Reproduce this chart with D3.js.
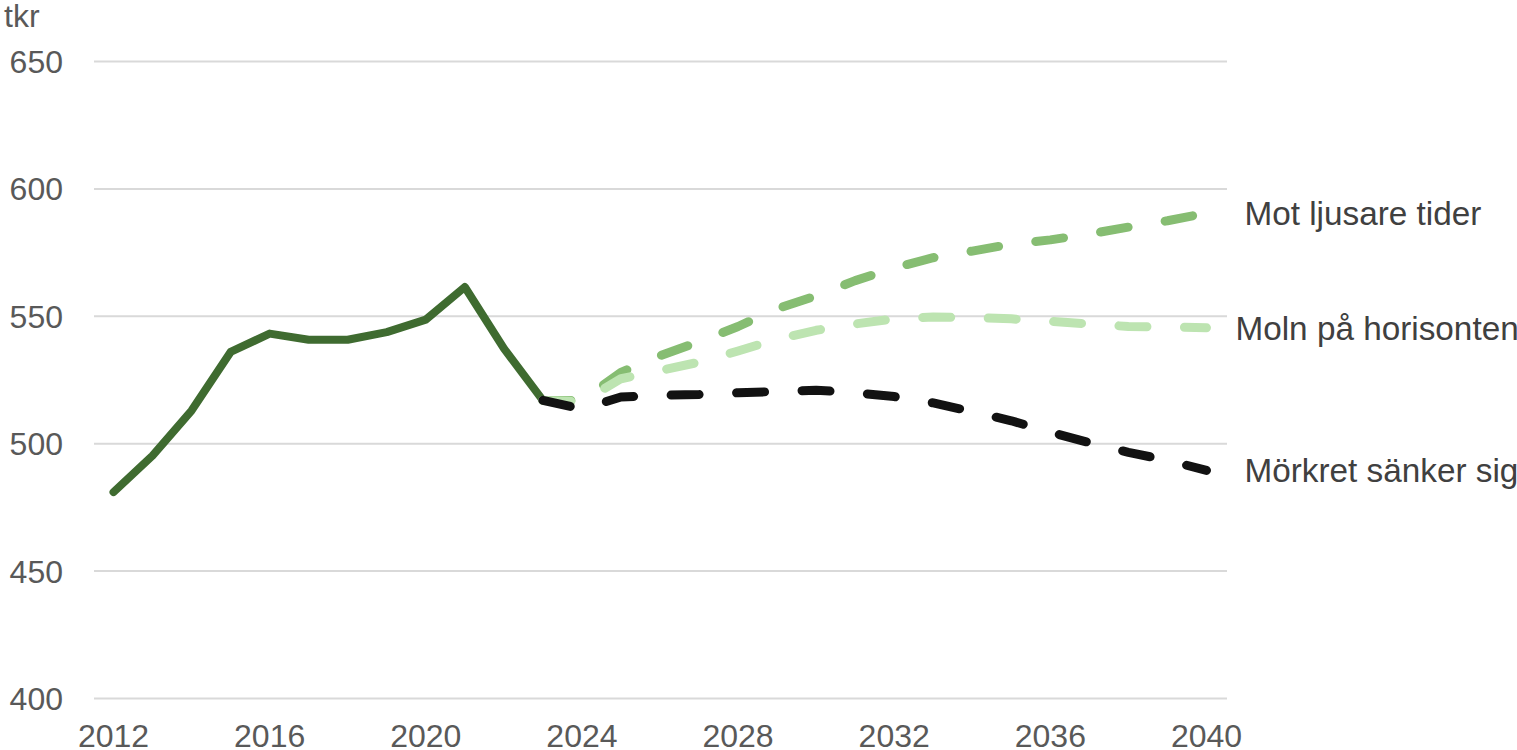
<!DOCTYPE html>
<html>
<head>
<meta charset="utf-8">
<script src="https://cdn.jsdelivr.net/npm/d3@7/dist/d3.min.js"></script>
<style>
  html, body { margin: 0; padding: 0; background: #fff; }
  svg { display: block; }
  text { font-family: "Liberation Sans", Arial, sans-serif; }
</style>
</head>
<body>
<svg id="chart" width="1517" height="750"></svg>
<script>
// ---- Data ----
const years = [2012, 2013, 2014, 2015, 2016, 2017, 2018, 2019, 2020, 2021, 2022, 2023, 2024, 2025, 2026,
               2027, 2028, 2029, 2030, 2031, 2032, 2033, 2034, 2035, 2036, 2037, 2038, 2039, 2040];
const xTickLabels = [2012, 2016, 2020, 2024, 2028, 2032, 2036, 2040];
const yTicks = [400, 450, 500, 550, 600, 650];

const histYears = [2012, 2013, 2014, 2015, 2016, 2017, 2018, 2019, 2020, 2021, 2022, 2023];
const histValues = [481, 495.3, 513, 536, 543.2, 540.8, 540.8, 543.8, 548.7, 561.5, 537.4, 517];

const scenYears = [2023, 2024, 2025, 2026, 2027, 2028, 2029, 2030, 2031, 2032, 2033, 2034, 2035, 2036, 2037, 2038, 2039, 2040];
const motLjusare = [517, 517, 528, 534.5, 540, 546, 553, 558, 564, 569, 573, 575.6, 578.3, 580, 582.3, 585, 587.5, 590.5];
const molnHorisonten = [517, 516.5, 525.5, 528.7, 532, 536.4, 541, 544.5, 547, 549, 549.7, 549.5, 549, 548, 547, 546, 545.8, 545.5];
const morkretSanker = [517, 513.6, 518.3, 519, 519.3, 520, 520.5, 521, 520, 518.5, 516, 512.6, 509, 504.5, 500.4, 496.6, 493.5, 489.5];

const seriesNames = ["Mot ljusare tider", "Moln på horisonten", "Mörkret sänker sig"];
const unitLabel = "tkr";

// ---- Chart ----
const svg = d3.select("#chart");
const x = d3.scalePoint().domain(years).range([94, 1226]).padding(0.5);
const y = d3.scaleLinear().domain([400, 650]).range([698.5, 61.5]);

// gridlines
svg.append("g").selectAll("line").data(yTicks).join("line")
  .attr("x1", 94).attr("x2", 1227)
  .attr("y1", d => y(d)).attr("y2", d => y(d))
  .attr("stroke", "#d9d9d9").attr("stroke-width", 2);

// y labels
svg.append("g").selectAll("text").data(yTicks).join("text")
  .attr("x", 63).attr("y", d => y(d) + 11.5)
  .attr("text-anchor", "end")
  .attr("font-size", 32).attr("fill", "#595959")
  .text(d => d);

// x labels
svg.append("g").selectAll("text").data(xTickLabels).join("text")
  .attr("x", d => x(d)).attr("y", 747)
  .attr("text-anchor", "middle")
  .attr("font-size", 32).attr("fill", "#595959")
  .text(d => d);

// unit label
svg.append("text").attr("x", 4).attr("y", 27)
  .attr("font-size", 32).attr("fill", "#595959").text(unitLabel);

const line = d3.line().x(d => x(d[0])).y(d => y(d[1]));

// historic
svg.append("path")
  .datum(histYears.map((yr, i) => [yr, histValues[i]]))
  .attr("d", line).attr("fill", "none")
  .attr("stroke", "#3f6b30").attr("stroke-width", 8)
  .attr("stroke-linejoin", "round").attr("stroke-linecap", "round");

const scenarios = [
  { name: seriesNames[0], values: motLjusare, color: "#86bd72", dx: 38 },
  { name: seriesNames[1], values: molnHorisonten, color: "#bde4b1", dx: 29 },
  { name: seriesNames[2], values: morkretSanker, color: "#121212", dx: 38 }
];

scenarios.forEach(s => {
  svg.append("path")
    .datum(scenYears.map((yr, i) => [yr, s.values[i]]))
    .attr("d", line).attr("fill", "none")
    .attr("stroke", s.color).attr("stroke-width", 9)
    .attr("stroke-dasharray", "28,37.5")
    .attr("stroke-linejoin", "round").attr("stroke-linecap", "round");
});

scenarios.forEach(s => {
  const last = s.values[s.values.length - 1];
  svg.append("text")
    .attr("x", x(2040) + s.dx).attr("y", y(last) + 12)
    .attr("font-size", 33.3).attr("fill", "#404040")
    .text(s.name);
});
</script>
</body>
</html>
